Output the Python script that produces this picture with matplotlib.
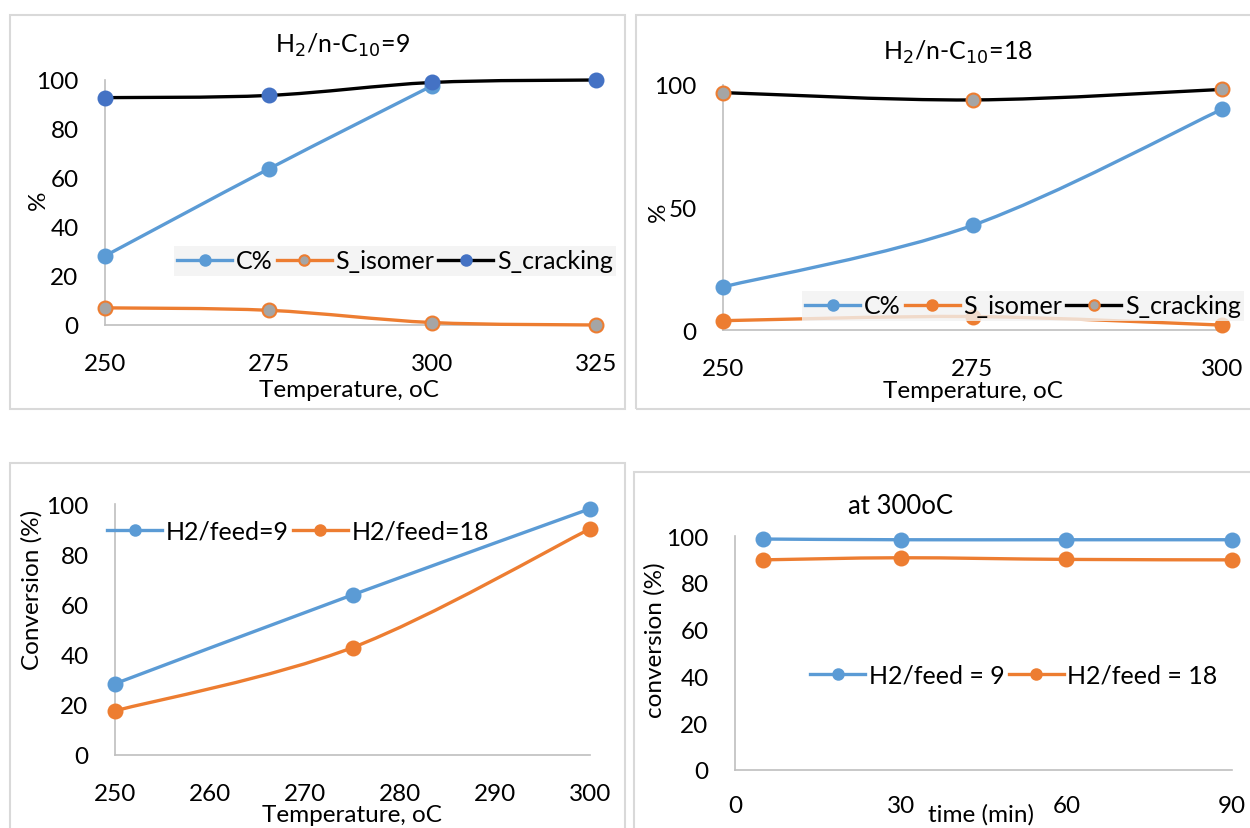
import numpy as np
import matplotlib
matplotlib.use('Agg')
import matplotlib.pyplot as plt
from matplotlib.path import Path
from matplotlib.patches import PathPatch, Rectangle
from matplotlib.lines import Line2D

plt.rcParams['font.family'] = ['Lato', 'DejaVu Sans']

W, H = 1250, 829

BLUE = '#5B9BD5'
ORANGE = '#ED7D31'
GRAY = '#A5A5A5'
DBLUE = '#4472C4'
AXIS_GRAY = '#BFBFBF'

# panel 1 : H2/n-C10 = 9
temp_9 = [250, 275, 300, 325]
conv_9 = [28.2, 63.7, 97.7]
s_isomer_9 = [7.0, 6.0, 1.0, 0.0]
s_cracking_9 = [92.8, 93.7, 99.0, 100.0]

# panel 2 : H2/n-C10 = 18
temp_18 = [250, 275, 300]
conv_18 = [17.6, 42.7, 90.1]
s_isomer_18 = [3.8, 5.5, 2.0]
s_cracking_18 = [96.9, 93.9, 98.2]

# panel 3 : conversion vs temperature
temp_conv = [250, 275, 300]
conv_feed9 = [28.4, 63.8, 98.1]
conv_feed18 = [17.6, 42.8, 90.1]

# panel 4 : conversion vs time at 300 oC
time_min = [5, 30, 60, 90]
time_feed9 = [98.7, 98.4, 98.4, 98.4]
time_feed18 = [89.8, 90.7, 90.0, 89.8]


def px_rect(x0, y0, x1, y1):
    # pixel box (top-left origin) -> figure fraction rect
    return [x0 / W, 1 - y1 / H, (x1 - x0) / W, (y1 - y0) / H]


def fpos(x, y):
    return (x / W, 1 - y / H)


def smooth_path(x, y):
    pts = np.column_stack([x, y]).astype(float)
    n = len(pts)
    verts = [pts[0]]
    codes = [Path.MOVETO]
    for i in range(n - 1):
        p0 = pts[i - 1] if i > 0 else pts[i]
        p1 = pts[i]
        p2 = pts[i + 1]
        p3 = pts[i + 2] if i + 2 < n else pts[i + 1]
        verts += [p1 + (p2 - p0) / 6.0, p2 - (p3 - p1) / 6.0, p2]
        codes += [Path.CURVE4] * 3
    return Path(verts, codes)


def draw_series(ax, x, y, line_c, face_c, edge_c, z=3):
    patch = PathPatch(smooth_path(x, y), fill=False, edgecolor=line_c, lw=2.4,
                      transform=ax.transData, clip_on=False, zorder=z,
                      capstyle='round', joinstyle='round')
    ax.add_patch(patch)
    ax.plot(x, y, ls='none', marker='o', ms=10, mfc=face_c, mec=edge_c, mew=1.5,
            clip_on=False, zorder=z + 0.5)
    # smaller marker in the legend, like excel
    return Line2D([], [], color=line_c, lw=2.4, marker='o', ms=7.5,
                  mfc=face_c, mec=edge_c, mew=1.5)


def style_axis(ax, xlim, ylim, xticks, yticks, xpad=20):
    ax.set_xlim(*xlim)
    ax.set_ylim(*ylim)
    ax.set_xticks(xticks)
    ax.set_yticks(yticks)
    for s in ['top', 'right']:
        ax.spines[s].set_visible(False)
    for s in ['left', 'bottom']:
        ax.spines[s].set_color(AXIS_GRAY)
        ax.spines[s].set_linewidth(1.2)
    ax.tick_params(axis='both', length=0, labelsize=17.5, colors='black')
    ax.tick_params(axis='x', pad=xpad)
    ax.tick_params(axis='y', pad=19)
    ax.patch.set_alpha(0)


def border(fig, x0, y0, x1, y1):
    fig.add_artist(Rectangle(fpos(x0, y1), (x1 - x0) / W, (y1 - y0) / H,
                             transform=fig.transFigure, fill=False,
                             edgecolor='#D9D9D9', lw=1.5))


def main():
    fig = plt.figure(figsize=(W / 100, H / 100), dpi=100)
    fig.patch.set_facecolor('white')

    border(fig, 10, 16, 625, 410)
    border(fig, 636, 16, 1252, 410)
    border(fig, 10, 464, 625, 832)
    border(fig, 634, 473, 1252, 832)

    leg_kw = dict(ncol=3, fontsize=18, handlelength=2.2, handletextpad=0.15,
                  columnspacing=0.15, borderpad=0.15, fancybox=False,
                  loc='center')

    # ---- panel 1
    ax1 = fig.add_axes(px_rect(105, 81, 596, 326))
    style_axis(ax1, (250, 325), (0, 100), temp_9, [0, 20, 40, 60, 80, 100])
    h1 = draw_series(ax1, temp_9[:3], conv_9, BLUE, BLUE, BLUE, z=3)
    h2 = draw_series(ax1, temp_9, s_isomer_9, ORANGE, GRAY, ORANGE, z=4)
    h3 = draw_series(ax1, temp_9, s_cracking_9, 'black', DBLUE, DBLUE, z=5)
    leg = fig.legend([h1, h2, h3], ['C%', 'S_isomer', 'S_cracking'],
                     bbox_to_anchor=fpos(395, 262), frameon=True, **leg_kw)
    leg.get_frame().set_facecolor('#F2F2F2')
    leg.get_frame().set_edgecolor('none')
    fig.text(*fpos(342, 45), r'H$_2$/n-C$_{10}$=9', fontsize=18,
             ha='center', va='center')
    fig.text(*fpos(38, 200), '%', fontsize=17.5, rotation=90,
             ha='center', va='center')
    fig.text(*fpos(349, 391), 'Temperature, oC', fontsize=17.5,
             ha='center', va='center')

    # ---- panel 2
    ax2 = fig.add_axes(px_rect(723, 86, 1222, 331))
    style_axis(ax2, (250, 300), (0, 100), temp_18, [0, 50, 100])
    g1 = draw_series(ax2, temp_18, conv_18, BLUE, BLUE, BLUE, z=3)
    g2 = draw_series(ax2, temp_18, s_isomer_18, ORANGE, ORANGE, ORANGE, z=4)
    g3 = draw_series(ax2, temp_18, s_cracking_18, 'black', GRAY, ORANGE, z=5)
    leg2 = fig.legend([g1, g2, g3], ['C%', 'S_isomer', 'S_cracking'],
                      bbox_to_anchor=fpos(1023, 307), frameon=True, **leg_kw)
    leg2.get_frame().set_facecolor('#F2F2F2')
    leg2.get_frame().set_edgecolor('none')
    leg2.set_zorder(10)
    fig.text(*fpos(958, 52), r'H$_2$/n-C$_{10}$=18', fontsize=18,
             ha='center', va='center')
    fig.text(*fpos(658, 212), '%', fontsize=17.5, rotation=90,
             ha='center', va='center')
    fig.text(*fpos(973, 392), 'Temperature, oC', fontsize=17.5,
             ha='center', va='center')

    # ---- panel 3
    ax3 = fig.add_axes(px_rect(115, 505, 590, 756))
    style_axis(ax3, (250, 300), (0, 100), [250, 260, 270, 280, 290, 300],
               [0, 20, 40, 60, 80, 100], xpad=20)
    k1 = draw_series(ax3, temp_conv, conv_feed9, BLUE, BLUE, BLUE, z=3)
    k2 = draw_series(ax3, temp_conv, conv_feed18, ORANGE, ORANGE, ORANGE, z=4)
    kw3 = dict(leg_kw)
    kw3['ncol'] = 2
    fig.legend([k1, k2], ['H2/feed=9', 'H2/feed=18'],
               bbox_to_anchor=fpos(298, 532), frameon=False, **kw3)
    fig.text(*fpos(32, 590), 'Conversion (%)', fontsize=17.5, rotation=90,
             ha='center', va='center')
    fig.text(*fpos(352, 816), 'Temperature, oC', fontsize=17.5,
             ha='center', va='center')

    # ---- panel 4
    ax4 = fig.add_axes(px_rect(735, 537, 1232, 771))
    style_axis(ax4, (0, 90), (0, 100), [0, 30, 60, 90],
               [0, 20, 40, 60, 80, 100], xpad=18)
    m1 = draw_series(ax4, time_min, time_feed9, BLUE, BLUE, BLUE, z=3)
    m2 = draw_series(ax4, time_min, time_feed18, ORANGE, ORANGE, ORANGE, z=4)
    fig.legend([m1, m2], ['H2/feed = 9', 'H2/feed = 18'],
               bbox_to_anchor=fpos(1014, 676), frameon=False, **kw3)
    fig.text(*fpos(900, 507), 'at 300oC', fontsize=18.5,
             ha='center', va='center')
    fig.text(*fpos(655, 640), 'conversion (%)', fontsize=17.5, rotation=90,
             ha='center', va='center')
    fig.text(*fpos(981, 815), 'time (min)', fontsize=17.5,
             ha='center', va='center')

    fig.savefig('out.png', dpi=100)


if __name__ == '__main__':
    main()
